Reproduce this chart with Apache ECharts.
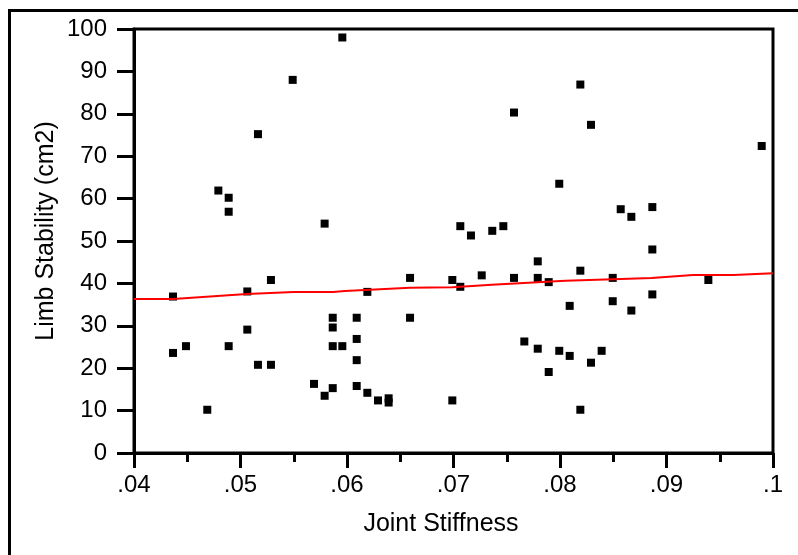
<!DOCTYPE html>
<html>
<head>
<meta charset="utf-8">
<script src="https://cdn.jsdelivr.net/npm/echarts@6/dist/echarts.min.js"></script>
<style>
html,body{margin:0;padding:0;background:#fff;}
#chart{width:798px;height:555px;}
</style>
</head>
<body>
<div id="chart"></div>
<script>
// Joint Stiffness (x) values of the scatter points
const stiffness = [
  0.05956, 0.0549, 0.05164, 0.04792, 0.04889, 0.04889, 0.0579,
  0.07568, 0.07993, 0.07064, 0.07164, 0.07364, 0.07468,
  0.08191, 0.08291, 0.09894, 0.0857, 0.0867, 0.08867,
  0.04366, 0.04366, 0.04488, 0.04688, 0.04889, 0.05064, 0.05064, 0.05164, 0.05286, 0.05286,
  0.0569, 0.0579, 0.05866, 0.05866, 0.05866, 0.05866, 0.05956,
  0.06091, 0.06091, 0.06091, 0.06091, 0.06191, 0.06191, 0.06291, 0.06391, 0.06391,
  0.06592, 0.06592, 0.06989, 0.06989, 0.07064, 0.07265, 0.07568, 0.07791, 0.07791, 0.07894,
  0.07665, 0.07791, 0.07993, 0.07894,
  0.08867, 0.08191, 0.08495, 0.09393, 0.08091, 0.08495, 0.0867, 0.08867,
  0.08091, 0.08291, 0.08391, 0.08191
];
// Limb Stability (cm2) values of the scatter points
const stability = [
  98.0, 88.0, 75.2, 61.9, 60.2, 56.9, 54.1,
  80.3, 63.5, 53.5, 51.3, 52.4, 53.5,
  86.9, 77.4, 72.4, 57.5, 55.7, 58.0,
  36.9, 23.6, 25.2, 10.2, 25.2, 38.1, 29.1, 20.8, 40.8, 20.8,
  16.3, 13.5, 15.3, 31.9, 29.6, 25.2, 25.2,
  31.9, 26.9, 21.9, 15.8, 38.0, 14.2, 12.4, 12.9, 11.9,
  41.3, 31.9, 40.8, 12.4, 39.2, 41.9, 41.3, 45.2, 41.3, 40.3,
  26.3, 24.6, 24.1, 19.1,
  48.0, 43.0, 41.3, 40.8, 34.7, 35.8, 33.6, 37.4,
  22.9, 21.3, 24.1, 10.2
];
// Fitted (red) line
const fitX = [0.04, 0.0437, 0.0506, 0.055, 0.0587, 0.0598, 0.0659, 0.0699, 0.0736, 0.0779, 0.0805, 0.085, 0.0886, 0.0925, 0.0963, 0.1];
const fitY = [36.3, 36.3, 37.5, 38.0, 38.0, 38.2, 39.0, 39.1, 39.7, 40.3, 40.6, 41.0, 41.3, 42.0, 42.0, 42.4];

const xTitle = 'Joint Stiffness';
const yTitle = 'Limb Stability (cm2)';

const FONT = 'Liberation Sans, Arial, Helvetica, sans-serif';
const chart = echarts.init(document.getElementById('chart'), null, {renderer: 'canvas'});

const scatterData = stiffness.map((x, i) => [x, stability[i]]);
const fitData = fitX.map((x, i) => [x, fitY[i]]);

chart.setOption({
  animation: false,
  backgroundColor: '#fff',
  grid: {
    left: 134, top: 29, right: 25, bottom: 102,
    show: true, borderColor: '#000', borderWidth: 3,
    outerBoundsMode: 'none'
  },
  xAxis: {
    type: 'value', min: 0.04, max: 0.1, interval: 0.01,
    axisLine: {show: true, onZero: false, lineStyle: {color: '#000', width: 3}},
    axisTick: {show: true, inside: false, length: 15, lineStyle: {color: '#000', width: 3}},
    minorTick: {show: true, splitNumber: 2, length: 9, lineStyle: {color: '#000', width: 3}},
    splitLine: {show: false},
    axisLabel: {
      margin: 20, color: '#000', fontSize: 24, fontFamily: FONT,
      showMinLabel: true, showMaxLabel: true,
      formatter: v => String(Math.round(v * 100) / 100).replace(/^0/, '')
    }
  },
  yAxis: {
    type: 'value', min: 0, max: 100, interval: 10,
    axisLine: {show: true, onZero: false, lineStyle: {color: '#000', width: 3}},
    axisTick: {show: true, inside: false, length: 17, lineStyle: {color: '#000', width: 3}},
    splitLine: {show: false},
    axisLabel: {
      margin: 27, color: '#000', fontSize: 24, fontFamily: FONT,
      showMinLabel: true, showMaxLabel: true
    }
  },
  series: [
    {
      type: 'scatter', data: scatterData, symbol: 'rect', symbolSize: 8,
      itemStyle: {color: '#000', opacity: 1}, z: 3
    },
    {
      type: 'line', data: fitData, showSymbol: false, smooth: false,
      lineStyle: {color: '#ff0000', width: 2}, z: 4
    }
  ],
  graphic: [
    {
      type: 'rect', shape: {x: 9.5, y: 10.5, width: 800, height: 560},
      style: {fill: 'none', stroke: '#000', lineWidth: 3}, silent: true
    },
    {
      type: 'text', x: 441, y: 524,
      style: {text: xTitle, font: '25px ' + FONT, fill: '#000', align: 'center', verticalAlign: 'middle'}
    },
    {
      type: 'text', x: 46, y: 231, rotation: Math.PI / 2,
      style: {text: yTitle, font: '25px ' + FONT, fill: '#000', align: 'center', verticalAlign: 'middle'}
    }
  ]
});
</script>
</body>
</html>
